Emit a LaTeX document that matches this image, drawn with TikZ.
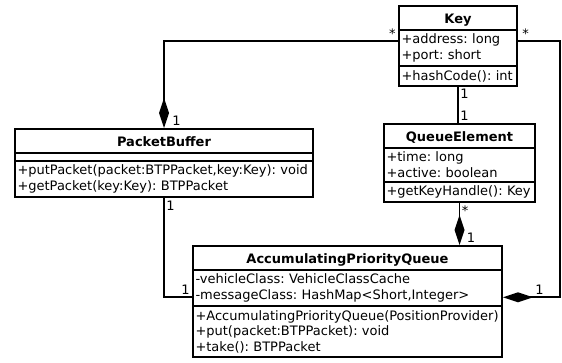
\documentclass[tikz,border=0pt]{standalone}
\usepackage{fontspec}
\setmainfont{DejaVu Sans}
\usetikzlibrary{shapes.multipart, arrows.meta}

\newcommand{\titlestrut}{\rule[-3pt]{0pt}{16pt}}
\frenchspacing

\begin{document}
\begin{tikzpicture}[
    x=1pt, y=1pt,
    umlclass/.style={rectangle split, rectangle split parts=3,
                     draw, line width=2pt, fill=white,
                     text width=#1, align=left, anchor=north,
                     inner xsep=2.5pt, inner ysep=3pt,
                     rectangle split empty part height=2pt,
                     font=\fontsize{13}{15.7}\selectfont},
    comp/.style={line width=1.7pt, -{Diamond[length=30pt, width=10pt]}},
    assoc/.style={line width=1.7pt},
    mult/.style={font=\fontsize{13}{14}\selectfont, inner sep=1.5pt}
  ]
  \useasboundingbox (0,0) rectangle (562,-362);

  % classes
  \node[umlclass=113pt] (key) at (458,-5)
        {\titlestrut\hfill\textbf{Key}\hfill\null
         \nodepart{two}+address: long\\+port: short
         \nodepart{three}+hashCode(): int};
  \node[umlclass=293pt] (pbuf) at (164,-128)
        {\titlestrut\hfill\textbf{PacketBuffer}\hfill\null
         \nodepart{two}
         \nodepart{three}+putPacket(packet:BTPPacket,key:Key): void\\+getPacket(key:Key): BTPPacket};
  \node[umlclass=146pt] (qe) at (459.5,-123)
        {\titlestrut\hfill\textbf{QueueElement}\hfill\null
         \nodepart{two}+time: long\\+active: boolean
         \nodepart{three}+getKeyHandle(): Key};
  \node[umlclass=304pt] (apq) at (347.5,-245)
        {\titlestrut\hfill\textbf{AccumulatingPriorityQueue}\hfill\null
         \nodepart{two}-vehicleClass: VehicleClassCache\\-messageClass: HashMap<Short,Integer>
         \nodepart{three}+AccumulatingPriorityQueue(PositionProvider)\\+put(packet:BTPPacket): void\\+take(): BTPPacket};

  % Key -- PacketBuffer
  \draw[comp] ([yshift=-11pt]key.text split west) -| (pbuf.north)
        node[mult, at start, above left] {*}
        node[mult, at end, above right, xshift=6pt] {1};

  % Key -- QueueElement
  \draw[assoc] (key.south) -- (key.south |- qe.north)
        node[mult, at start, below right] {1}
        node[mult, at end, above right] {1};

  % QueueElement -- AccumulatingPriorityQueue
  \draw[comp] (qe.south) -- (qe.south |- apq.north)
        node[mult, at start, below right] {*}
        node[mult, at end, above right, xshift=5pt] {1};

  % PacketBuffer -- AccumulatingPriorityQueue
  \draw[assoc] (pbuf.south) |- ([yshift=9pt]apq.two split west)
        node[mult, at start, below right] {1}
        node[mult, at end, above left] {1};

  % Key -- AccumulatingPriorityQueue
  \coordinate (rturn) at (560,-200);
  \draw[comp] ([yshift=-11pt]key.text split east) -| (rturn)
        node[mult, at start, above right, xshift=2pt] {*}
        |- ([yshift=9pt]apq.two split east)
        node[mult, at end, above right, xshift=30pt] {1};
\end{tikzpicture}
\end{document}
